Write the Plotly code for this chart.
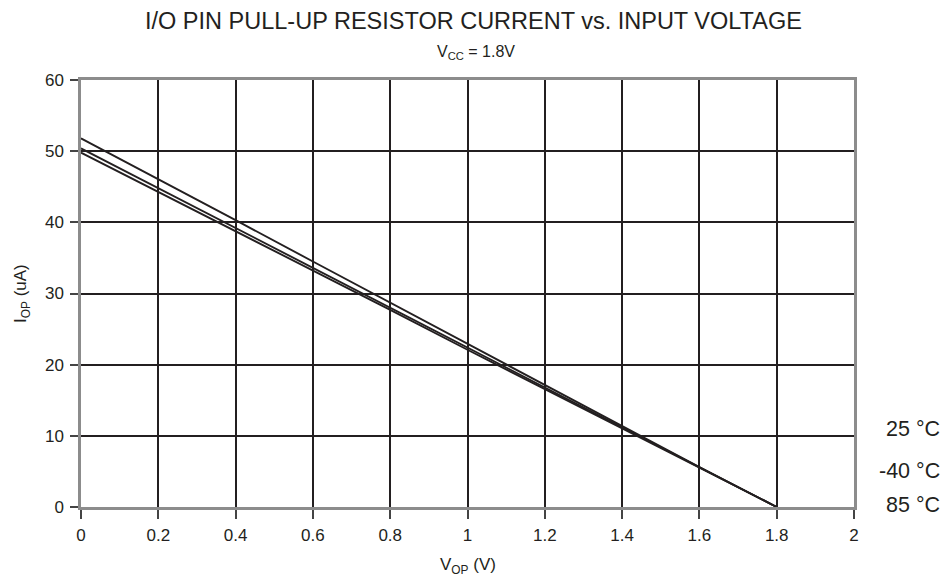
import plotly.graph_objects as go

v_op = [0.0, 0.2, 0.4, 0.6, 0.8, 1.0, 1.2, 1.4, 1.6, 1.8]
i_25 = [51.8, 46.1, 40.3, 34.5, 28.7, 22.9, 17.1, 11.3, 5.6, 0.0]
i_m40 = [50.4, 44.8, 39.2, 33.5, 27.9, 22.3, 16.7, 11.1, 5.5, 0.0]
i_85 = [49.8, 44.3, 38.8, 33.2, 27.7, 22.1, 16.6, 11.0, 5.5, 0.0]
series_names = ["25 °C", "-40 °C", "85 °C"]
label_y = [11, 5, 0.3]

x_ticks = [0, 0.2, 0.4, 0.6, 0.8, 1, 1.2, 1.4, 1.6, 1.8, 2]
y_ticks = [0, 10, 20, 30, 40, 50, 60]

FONT = "Liberation Sans, Arial, sans-serif"
INK = "#231f20"

fig = go.Figure()
for name, ys in zip(series_names, [i_25, i_m40, i_85]):
    fig.add_trace(go.Scatter(x=v_op, y=ys, mode="lines", name=name,
                             line=dict(color=INK, width=1.9), showlegend=False))

for name, ly in zip(series_names, label_y):
    fig.add_annotation(x=1, xref="paper", xanchor="right", xshift=88, y=ly, yref="y",
                       yanchor="middle", text=name, showarrow=False,
                       font=dict(size=21.5, color=INK, family=FONT))

fig.add_annotation(x=0.5, xref="paper", xshift=6, y=1, yref="paper", yanchor="middle", yshift=59.5,
                   text="I/O PIN PULL-UP RESISTOR CURRENT vs. INPUT VOLTAGE", showarrow=False,
                   font=dict(size=23.5, color=INK, family=FONT))
fig.add_annotation(x=0.5, xref="paper", xshift=8, y=1, yref="paper", yanchor="middle", yshift=28,
                   text="V<sub>CC</sub> = 1.8V", showarrow=False,
                   font=dict(size=16, color=INK, family=FONT))
fig.add_annotation(x=0.5, xref="paper", y=0, yref="paper", yanchor="middle", yshift=-59,
                   text="V<sub>OP</sub> (V)", showarrow=False,
                   font=dict(size=17, color=INK, family=FONT))
fig.add_annotation(x=0, xref="paper", xanchor="center", xshift=-59.5, y=0.5, yref="paper",
                   yanchor="middle", textangle=-90,
                   text="I<sub>OP</sub> (uA)", showarrow=False,
                   font=dict(size=17, color=INK, family=FONT))

fig.update_layout(
    width=942, height=574,
    margin=dict(l=72.5, r=96, t=71.5, b=75),
    paper_bgcolor="white", plot_bgcolor="white",
    font=dict(family=FONT, size=17, color=INK),
    xaxis=dict(range=[0, 2], tickvals=x_ticks, ticktext=[f"{t:g}" for t in x_ticks],
               showgrid=True, gridcolor=INK, gridwidth=2,
               showline=True, linecolor="#8c8c8c", linewidth=2.5, mirror=True,
               ticks="outside", ticklen=9, tickcolor="#444", tickwidth=1.5, zeroline=False,
               ticklabelstandoff=2,
               tickfont=dict(size=17, color=INK)),
    yaxis=dict(range=[0, 60], tickvals=y_ticks,
               showgrid=True, gridcolor=INK, gridwidth=2,
               showline=True, linecolor="#8c8c8c", linewidth=2.5, mirror=True,
               ticks="outside", ticklen=8, tickcolor="#444", tickwidth=1.5, zeroline=False,
               ticklabelstandoff=3,
               tickfont=dict(size=17, color=INK)),
)

fig.write_html("out.html")
